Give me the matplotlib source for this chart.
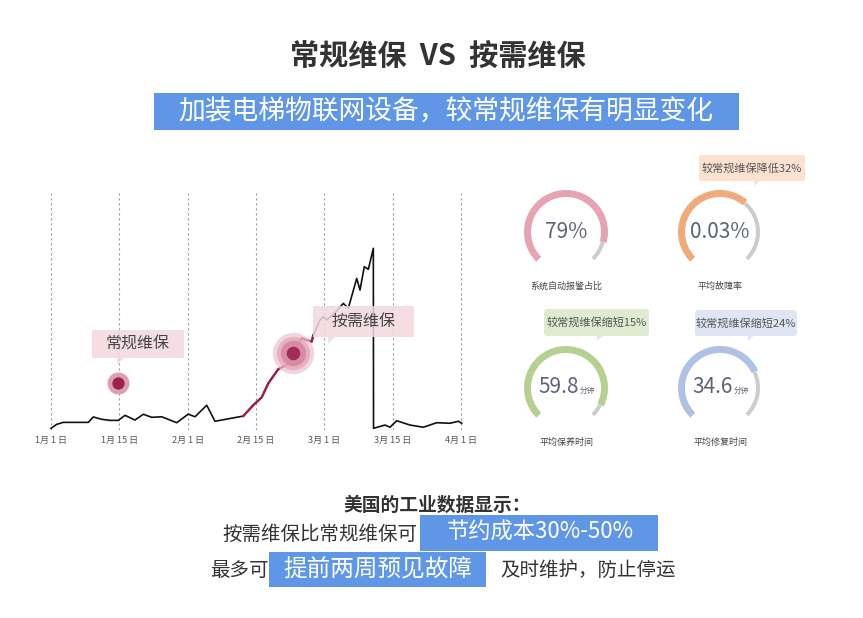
import matplotlib
matplotlib.use("Agg")
import matplotlib.pyplot as plt
import numpy as np
from matplotlib.patches import Wedge, Rectangle, FancyBboxPatch, Polygon

plt.rcParams['font.family'] = ['Noto Sans CJK SC', 'DejaVu Sans']

# ---- data ----
title = "常规维保  VS  按需维保"
subtitle = "加装电梯物联网设备，较常规维保有明显变化"

tick_labels = ["1月 1 日", "1月 15 日", "2月 1 日", "2月 15 日", "3月 1 日", "3月 15 日", "4月 1 日"]
line_x = [0, 0.083, 0.18, 0.546, 0.619, 0.742, 0.863, 0.985, 1.083, 1.229,
          1.351, 1.474, 1.62, 1.84, 2.009, 2.107, 2.279, 2.4, 2.814, 2.961,
          3.084, 3.18, 3.327, 3.473, 3.546, 3.669, 3.815, 3.839, 3.937, 3.985,
          4.035, 4.156, 4.278, 4.351, 4.474, 4.522, 4.585, 4.644, 4.717, 4.72,
          4.888, 4.961, 5.059, 5.254, 5.449, 5.645, 5.839, 5.961, 6.011]
line_y = [0, 2.2, 3.3, 3.3, 6.3, 5.0, 4.4, 4.4, 7.2, 4.6,
          7.8, 6.1, 6.4, 3.1, 7.9, 6.4, 12.8, 3.9, 6.8, 12.9,
          17.2, 25.0, 32.9, 35.7, 42.0, 50.0, 48.1, 51.8, 60.2, 62.0,
          60.2, 64.1, 69.4, 66.7, 83.3, 76.8, 89.8, 88.3, 100, 0,
          1.8, 0.6, 4.2, 1.8, 0.6, 3.1, 2.8, 3.9, 2.8]
red_range = (2.81, 3.84)
normal_pt = (0.985, 25.0)
demand_pt = (3.546, 42.0)

gauge_labels = ["系统自动报警占比", "平均故障率", "平均保养时间", "平均修复时间"]
gauge_values = ["79%", "0.03%", "59.8", "34.6"]
gauge_units = ["", "", "分钟", "分钟"]
gauge_fill = [0.89, 0.65, 0.93, 0.74]
gauge_colors = ["#e6a3b3", "#f0ab7c", "#b5d091", "#afc2e3"]
callout_texts = [None, "较常规维保降低32%", "较常规维保缩短15%", "较常规维保缩短24%"]
callout_colors = [None, "#fbe1d0", "#dfebd0", "#dfe5f2"]

bottom_head = "美国的工业数据显示："
row2_text = "按需维保比常规维保可"
row2_hl = "节约成本30%-50%"
row3_text = "最多可"
row3_hl = "提前两周预见故障"
row3_tail = "及时维护，防止停运"

blue = "#5f96e6"
dark_red = "#9e2050"

W, H = 863, 618
fig = plt.figure(figsize=(W / 100, H / 100), dpi=100)

# ---- line chart ----
ax = fig.add_axes([40 / W, (H - 430.1) / H, 432 / W, 237.6 / H])
lx = np.array(line_x)
ly = np.array(line_y)
ax.plot(lx, ly, color="#111111", lw=1.2, zorder=2)
m = (lx >= red_range[0]) & (lx <= red_range[1])
ax.plot(lx[m], ly[m], color=dark_red, lw=1.7, zorder=3)

ax.scatter([normal_pt[0]], [normal_pt[1]], s=250, color="#dba0b2", zorder=4, linewidths=0)
ax.scatter([normal_pt[0]], [normal_pt[1]], s=78, color=dark_red, zorder=5, linewidths=0)
for s, c, a in [(888, "#eec3cf", 0.7), (577, "#e2a6b8", 0.75), (333, "#d5869f", 0.85)]:
    ax.scatter([demand_pt[0]], [demand_pt[1]], s=s, color=c, alpha=a, zorder=4, linewidths=0)
ax.scatter([demand_pt[0]], [demand_pt[1]], s=95, color="#a32a59", zorder=5, linewidths=0)

ax.set_xlim(-0.161, 6.161)
ax.set_ylim(-1, 131)
ax.set_xticks(range(len(tick_labels)))
ax.set_xticklabels(tick_labels, fontsize=6.5, color="#555555")
ax.tick_params(axis='x', length=0, pad=4)
ax.set_yticks([])
for sp in ax.spines.values():
    sp.set_visible(False)
ax.grid(axis='x', color="#9a9a9a", lw=0.8, linestyle=(0, (2, 2.5)))
ax.set_axisbelow(True)

# ---- overlay in pixel coordinates ----
ov = fig.add_axes([0, 0, 1, 1], zorder=3)
ov.set_xlim(0, W)
ov.set_ylim(H, 0)
ov.axis('off')
ov.patch.set_visible(False)

ov.text(437.5, 56, title, ha='center', va='center', fontsize=21, fontweight='heavy', color="#333333")
ov.add_patch(Rectangle((154, 93), 585, 37, color=blue, lw=0))
ov.text(446, 111, subtitle, ha='center', va='center', fontsize=19.3, color="white")

# chart annotations
def note(x0, y0, x1, y1, px, text):
    ov.add_patch(Rectangle((x0, y0), x1 - x0, y1 - y0, color="#f3d9df", alpha=0.85, lw=0, zorder=6))
    ov.add_patch(Polygon([(px, y1), (px, y1 + 7), (px + 7, y1)], closed=True,
                         color="#f3d9df", alpha=0.85, lw=0, zorder=6))
    ov.text((x0 + x1) / 2, (y0 + y1) / 2, text, ha='center', va='center',
            fontsize=11.5, color="#444444", zorder=7)

note(92, 330, 184, 358, 117, "常规维保")
note(313, 306, 414, 337, 328, "按需维保")

# gauges
centers = [(566, 232), (720, 232), (566, 388), (720, 388)]
r_out, ring_w = 42, 7
for i, (cx, cy) in enumerate(centers):
    end = 225 - 270 * gauge_fill[i]
    ov.add_patch(Wedge((cx, cy), r_out, -225, -end, width=ring_w, color=gauge_colors[i], lw=0))
    ov.add_patch(Wedge((cx, cy), r_out - 2, -end, 45, width=4, color="#cccccc", lw=0))
    if gauge_units[i]:
        ov.text(cx + 13, cy - 1, gauge_values[i], ha='right', va='center', fontsize=15,
                color="#5e6476")
        ov.text(cx + 14, cy + 3, gauge_units[i], ha='left', va='center', fontsize=5.5,
                color="#5e6476")
    else:
        ov.text(cx, cy, gauge_values[i], ha='center', va='center', fontsize=15, color="#5e6476")
    ov.text(cx, cy + 54, gauge_labels[i], ha='center', va='center', fontsize=6.5, color="#444444")

callout_boxes = [None, (699, 155, 805, 181, 754), (544, 309, 649, 336, 597), (695, 310, 797, 336, 748)]
for i, b in enumerate(callout_boxes):
    if b is None:
        continue
    x0, y0, x1, y1, px = b
    ov.add_patch(FancyBboxPatch((x0, y0), x1 - x0, y1 - y0, boxstyle="round,pad=0,rounding_size=3",
                                color=callout_colors[i], lw=0))
    ov.add_patch(Polygon([(px, y1 - 0.5), (px, y1 + 5), (px + 6, y1 - 0.5)], closed=True,
                         color=callout_colors[i], lw=0))
    ov.text((x0 + x1) / 2, (y0 + y1) / 2, callout_texts[i], ha='center', va='center',
            fontsize=8, color="#555555")

# bottom text
ov.text(437, 505, bottom_head, ha='center', va='center', fontsize=13.5, fontweight='bold', color="#333333")
ov.text(417, 534, row2_text, ha='right', va='center', fontsize=14, color="#333333")
ov.add_patch(Rectangle((420, 515), 238, 36, color=blue, lw=0))
ov.text(540, 532, row2_hl, ha='center', va='center', fontsize=16, color="white")
ov.text(210, 570, row3_text, ha='left', va='center', fontsize=14, color="#333333")
ov.add_patch(Rectangle((269, 552), 217, 35, color=blue, lw=0))
ov.text(377.5, 569, row3_hl, ha='center', va='center', fontsize=17, color="white")
ov.text(500, 570, row3_tail, ha='left', va='center', fontsize=14, color="#333333")

fig.savefig("out.png", dpi=100)
